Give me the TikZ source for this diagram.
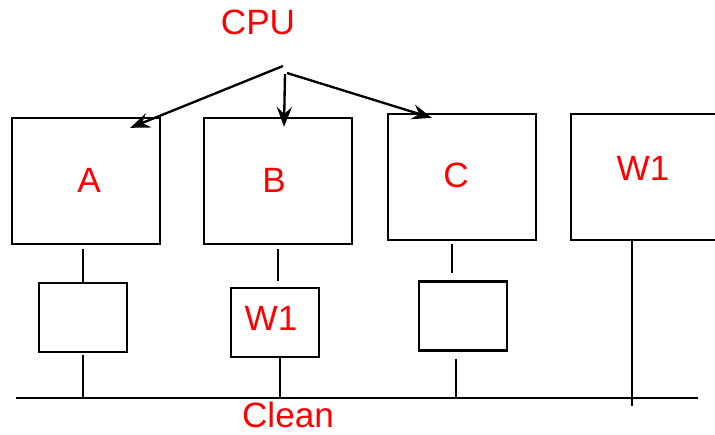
\documentclass[tikz,border=0pt]{standalone}
\usepackage{fontspec}
\setmainfont{Liberation Sans}
\usetikzlibrary{arrows.meta, calc}

\begin{document}
\begin{tikzpicture}[x=0.03cm, y=-0.03cm,
        cpubox/.style={draw, line width=2pt, minimum width=4.44cm, minimum height=3.78cm,
            inner sep=0pt, text=red, font=\fontsize{30}{36}\selectfont},
        buf/.style={draw, line width=2pt, minimum width=2.64cm, minimum height=2.07cm,
            inner sep=0pt, text=red, font=\fontsize{30}{36}\selectfont},
        txt/.style={text=red, inner sep=0pt, font=\fontsize{30}{36}\selectfont},
        wire/.style={line width=2pt},
        feed/.style={line width=2pt, -{Stealth[length=17pt, width=13pt, inset=6pt]}}
    ]
        \useasboundingbox (0,0) rectangle (715,434);
        \node[txt] (cpu) at (258,22) {CPU};
        \coordinate (src) at (285,70);
        \node[cpubox] (a) at (86,181) {};
        \node[txt] (albl) at (89,180) {A};
        \node[cpubox] (b) at (278,181) {};
        \node[txt] (blbl) at (274,180) {B};
        \node[cpubox] (c) at (462,177) {};
        \node[txt] (clbl) at (456,175) {C};
        \node[cpubox] (w1) at (645,177) {};
        \node[txt] (w1lbl) at (643,168) {W1};
        \node[buf] (sa) at (83,317.5) {};
        \node[buf] (sb) at (275,322.5) {};
        \node[txt] (sblbl) at (271,318) {W1};
        \node[buf] (sc) at (463,316) {};
        \coordinate (busL) at (16,398); \coordinate (busR) at (698,398);
        \coordinate (w1end) at (632,406);
        \coordinate (bdown) at ($(sb.south)+(5,0)$);
        \coordinate (cup) at ($(c.south)+(-10,0)$);
        \coordinate (cdown) at ($(sc.south)+(-7,0)$);
        \draw[wire] (busL) -- (busR);
        \node[txt] (clean) at (288,415) {Clean};
        \draw[feed] ($(src)+(-2,-4)$) -- ($(a.north east)+(-31,11)$);
        \draw[feed] ($(src)+(0,4)$) -- ($(b.north)+(6,10)$);
        \draw[feed] ($(src)+(2,3)$) -- ($(c.north west)+(45,5)$);
        \draw[wire, shorten <=1.2mm] (sa.north |- a.south) -- (sa.north);
        \draw[wire, shorten <=0.6mm] (sa.south) -- (sa.south |- busL);
        \draw[wire, shorten <=1.2mm, shorten >=1.8mm] (b.south) -- (b.south |- sb.north);
        \draw[wire] (bdown) -- (bdown |- busL);
        \draw[wire, shorten <=0.9mm, shorten >=2.1mm] (cup) -- (cup |- sc.north);
        \draw[wire, shorten <=2.1mm] (cdown) -- (cdown |- busL);
        \draw[wire] (w1.south -| w1end) -- (w1end);
    \end{tikzpicture}
\end{document}
